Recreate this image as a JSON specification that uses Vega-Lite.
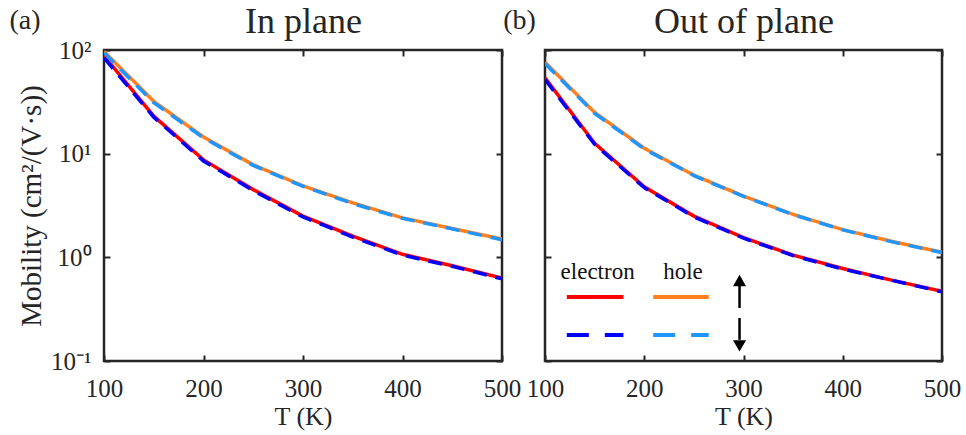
{
  "$schema": "https://vega.github.io/schema/vega-lite/v6.json",
  "background": "white",
  "padding": {"left": 8, "top": 1, "right": 5, "bottom": 5},
  "config": {
    "font": "Liberation Serif",
    "view": {"stroke": "#262626", "strokeWidth": 2.5},
    "axis": {"domain": false, "grid": false, "tickColor": "#262626", "tickWidth": 2, "tickSize": -6, "labelFlush": false, "labelFont": "Liberation Serif", "labelFontSize": 25, "labelColor": "#262626", "titleFont": "Liberation Serif", "titleFontSize": 26, "titleFontWeight": "normal", "titleColor": "#262626"},
    "title": {"font": "Liberation Serif", "fontSize": 28, "fontWeight": "normal", "color": "#262626"}
  },
  "datasets": {
    "curves": [
      {"p": "a", "s": "e", "T": 100, "mu": 88}, {"p": "a", "s": "e", "T": 150, "mu": 23}, {"p": "a", "s": "e", "T": 200, "mu": 8.7}, {"p": "a", "s": "e", "T": 250, "mu": 4.5}, {"p": "a", "s": "e", "T": 300, "mu": 2.5}, {"p": "a", "s": "e", "T": 350, "mu": 1.6}, {"p": "a", "s": "e", "T": 400, "mu": 1.07}, {"p": "a", "s": "e", "T": 450, "mu": 0.83}, {"p": "a", "s": "e", "T": 500, "mu": 0.63},
      {"p": "a", "s": "h", "T": 100, "mu": 97}, {"p": "a", "s": "h", "T": 150, "mu": 32}, {"p": "a", "s": "h", "T": 200, "mu": 14.5}, {"p": "a", "s": "h", "T": 250, "mu": 7.8}, {"p": "a", "s": "h", "T": 300, "mu": 4.9}, {"p": "a", "s": "h", "T": 350, "mu": 3.35}, {"p": "a", "s": "h", "T": 400, "mu": 2.4}, {"p": "a", "s": "h", "T": 450, "mu": 1.9}, {"p": "a", "s": "h", "T": 500, "mu": 1.5},
      {"p": "a", "s": "eD", "T": 100, "mu": 84}, {"p": "a", "s": "eD", "T": 150, "mu": 22.5}, {"p": "a", "s": "eD", "T": 200, "mu": 8.5}, {"p": "a", "s": "eD", "T": 250, "mu": 4.4}, {"p": "a", "s": "eD", "T": 300, "mu": 2.45}, {"p": "a", "s": "eD", "T": 350, "mu": 1.57}, {"p": "a", "s": "eD", "T": 400, "mu": 1.05}, {"p": "a", "s": "eD", "T": 450, "mu": 0.82}, {"p": "a", "s": "eD", "T": 500, "mu": 0.62},
      {"p": "a", "s": "hD", "T": 100, "mu": 94}, {"p": "a", "s": "hD", "T": 150, "mu": 31}, {"p": "a", "s": "hD", "T": 200, "mu": 14.2}, {"p": "a", "s": "hD", "T": 250, "mu": 7.7}, {"p": "a", "s": "hD", "T": 300, "mu": 4.85}, {"p": "a", "s": "hD", "T": 350, "mu": 3.3}, {"p": "a", "s": "hD", "T": 400, "mu": 2.38}, {"p": "a", "s": "hD", "T": 450, "mu": 1.88}, {"p": "a", "s": "hD", "T": 500, "mu": 1.48},
      {"p": "b", "s": "e", "T": 100, "mu": 54}, {"p": "b", "s": "e", "T": 150, "mu": 12.6}, {"p": "b", "s": "e", "T": 200, "mu": 4.8}, {"p": "b", "s": "e", "T": 250, "mu": 2.5}, {"p": "b", "s": "e", "T": 300, "mu": 1.55}, {"p": "b", "s": "e", "T": 350, "mu": 1.05}, {"p": "b", "s": "e", "T": 400, "mu": 0.78}, {"p": "b", "s": "e", "T": 450, "mu": 0.6}, {"p": "b", "s": "e", "T": 500, "mu": 0.47},
      {"p": "b", "s": "h", "T": 100, "mu": 76}, {"p": "b", "s": "h", "T": 150, "mu": 25}, {"p": "b", "s": "h", "T": 200, "mu": 11.3}, {"p": "b", "s": "h", "T": 250, "mu": 6.2}, {"p": "b", "s": "h", "T": 300, "mu": 3.9}, {"p": "b", "s": "h", "T": 350, "mu": 2.6}, {"p": "b", "s": "h", "T": 400, "mu": 1.85}, {"p": "b", "s": "h", "T": 450, "mu": 1.42}, {"p": "b", "s": "h", "T": 500, "mu": 1.12},
      {"p": "b", "s": "eD", "T": 100, "mu": 52}, {"p": "b", "s": "eD", "T": 150, "mu": 12.3}, {"p": "b", "s": "eD", "T": 200, "mu": 4.7}, {"p": "b", "s": "eD", "T": 250, "mu": 2.46}, {"p": "b", "s": "eD", "T": 300, "mu": 1.53}, {"p": "b", "s": "eD", "T": 350, "mu": 1.04}, {"p": "b", "s": "eD", "T": 400, "mu": 0.77}, {"p": "b", "s": "eD", "T": 450, "mu": 0.6}, {"p": "b", "s": "eD", "T": 500, "mu": 0.465},
      {"p": "b", "s": "hD", "T": 100, "mu": 74}, {"p": "b", "s": "hD", "T": 150, "mu": 24.5}, {"p": "b", "s": "hD", "T": 200, "mu": 11.1}, {"p": "b", "s": "hD", "T": 250, "mu": 6.15}, {"p": "b", "s": "hD", "T": 300, "mu": 3.87}, {"p": "b", "s": "hD", "T": 350, "mu": 2.58}, {"p": "b", "s": "hD", "T": 400, "mu": 1.84}, {"p": "b", "s": "hD", "T": 450, "mu": 1.41}, {"p": "b", "s": "hD", "T": 500, "mu": 1.11}
    ],
    "legendLines": [
      {"s": "e", "T": 122, "mu": 0.414}, {"s": "e", "T": 179, "mu": 0.414},
      {"s": "h", "T": 209, "mu": 0.414}, {"s": "h", "T": 265, "mu": 0.414},
      {"s": "eD", "T": 122, "mu": 0.178}, {"s": "eD", "T": 179, "mu": 0.178},
      {"s": "hD", "T": 209, "mu": 0.178}, {"s": "hD", "T": 265, "mu": 0.178}
    ],
    "legendText": [
      {"label": "electron", "T": 153, "mu": 0.72},
      {"label": "hole", "T": 239, "mu": 0.72}
    ],
    "arrows": [
      {"T": 296, "lo": 0.325, "hi": 0.59},
      {"T": 296, "lo": 0.16, "hi": 0.26}
    ],
    "heads": [
      {"T": 296, "mu": 0.598, "dir": "up"},
      {"T": 296, "mu": 0.14, "dir": "down"}
    ]
  },
  "hconcat": [
    {
      "width": 398,
      "height": 311,
      "title": {"text": "(a)", "anchor": "start", "frame": "bounds", "dx": -8, "dy": 36},
      "layer": [
        {
          "data": {"name": "curves"},
          "transform": [{"filter": "datum.p == 'a' && (datum.s == 'e' || datum.s == 'h')"}],
          "mark": {"type": "line", "strokeWidth": 3.5, "clip": true},
          "encoding": {
            "x": {"field": "T", "type": "quantitative", "scale": {"domain": [100, 500], "nice": false}, "axis": {"values": [100, 200, 300, 400, 500], "title": "T (K)", "labelPadding": 21, "titlePadding": 2}},
            "y": {"field": "mu", "type": "quantitative", "scale": {"type": "log", "domain": [0.1, 100], "nice": false}, "axis": {"values": [0.1, 1, 10, 100], "labelExpr": "datum.value >= 99 ? '10²' : datum.value >= 9 ? '10¹' : datum.value >= 0.9 ? '10⁰' : '10⁻¹'", "title": "Mobility (cm²/(V·s))", "titleFontSize": 29, "labelPadding": 19, "titlePadding": 4}},
            "color": {"field": "s", "type": "nominal", "scale": {"domain": ["e", "eD", "h", "hD"], "range": ["#FF0000", "#0000FF", "#FF8020", "#1E96FF"]}, "legend": null}
          }
        },
        {
          "data": {"name": "curves"},
          "transform": [{"filter": "datum.p == 'a' && (datum.s == 'eD' || datum.s == 'hD')"}],
          "mark": {"type": "line", "strokeWidth": 3.5, "strokeDash": [14, 9], "clip": true},
          "encoding": {
            "x": {"field": "T", "type": "quantitative", "scale": {"domain": [100, 500], "nice": false}, "axis": null},
            "y": {"field": "mu", "type": "quantitative", "scale": {"type": "log", "domain": [0.1, 100], "nice": false}, "axis": null},
            "color": {"field": "s", "type": "nominal", "legend": null}
          }
        },
        {
          "data": {"name": "curves"},
          "transform": [{"filter": "datum.p == 'a' && datum.s == 'e'"}],
          "mark": {"type": "line", "opacity": 0},
          "encoding": {
            "x": {"field": "T", "type": "quantitative", "scale": {"domain": [100, 500], "nice": false}, "axis": {"orient": "top", "values": [100, 200, 300, 400, 500], "labels": false, "title": "In plane", "titleFontSize": 36, "titlePadding": 9}},
            "y": {"field": "mu", "type": "quantitative", "scale": {"type": "log", "domain": [0.1, 100], "nice": false}, "axis": {"orient": "right", "values": [0.1, 1, 10, 100], "labels": false, "title": null}}
          }
        }
      ],
      "resolve": {"axis": {"x": "independent", "y": "independent"}}
    },
    {
      "width": 397,
      "height": 311,
      "title": {"text": "(b)", "anchor": "start", "frame": "bounds", "dx": -23, "dy": 36},
      "layer": [
        {
          "data": {"name": "curves"},
          "transform": [{"filter": "datum.p == 'b' && (datum.s == 'e' || datum.s == 'h')"}],
          "mark": {"type": "line", "strokeWidth": 3.5, "clip": true},
          "encoding": {
            "x": {"field": "T", "type": "quantitative", "scale": {"domain": [100, 500], "nice": false}, "axis": {"values": [100, 200, 300, 400, 500], "title": "T (K)", "labelPadding": 21, "titlePadding": 2}},
            "y": {"field": "mu", "type": "quantitative", "scale": {"type": "log", "domain": [0.1, 100], "nice": false}, "axis": {"values": [0.1, 1, 10, 100], "labels": false, "title": null}},
            "color": {"field": "s", "type": "nominal", "scale": {"domain": ["e", "eD", "h", "hD"], "range": ["#FF0000", "#0000FF", "#FF8020", "#1E96FF"]}, "legend": null}
          }
        },
        {
          "data": {"name": "curves"},
          "transform": [{"filter": "datum.p == 'b' && (datum.s == 'eD' || datum.s == 'hD')"}],
          "mark": {"type": "line", "strokeWidth": 3.5, "strokeDash": [14, 9], "clip": true},
          "encoding": {
            "x": {"field": "T", "type": "quantitative", "scale": {"domain": [100, 500], "nice": false}, "axis": null},
            "y": {"field": "mu", "type": "quantitative", "scale": {"type": "log", "domain": [0.1, 100], "nice": false}, "axis": null},
            "color": {"field": "s", "type": "nominal", "legend": null}
          }
        },
        {
          "data": {"name": "legendLines"},
          "transform": [{"filter": "datum.s == 'e' || datum.s == 'h'"}],
          "mark": {"type": "line", "strokeWidth": 4},
          "encoding": {
            "x": {"field": "T", "type": "quantitative", "scale": {"domain": [100, 500], "nice": false}, "axis": null},
            "y": {"field": "mu", "type": "quantitative", "scale": {"type": "log", "domain": [0.1, 100], "nice": false}, "axis": null},
            "color": {"field": "s", "type": "nominal", "legend": null}
          }
        },
        {
          "data": {"name": "legendLines"},
          "transform": [{"filter": "datum.s == 'eD' || datum.s == 'hD'"}],
          "mark": {"type": "line", "strokeWidth": 4, "strokeDash": [22, 16]},
          "encoding": {
            "x": {"field": "T", "type": "quantitative", "scale": {"domain": [100, 500], "nice": false}, "axis": null},
            "y": {"field": "mu", "type": "quantitative", "scale": {"type": "log", "domain": [0.1, 100], "nice": false}, "axis": null},
            "color": {"field": "s", "type": "nominal", "legend": null}
          }
        },
        {
          "data": {"name": "legendText"},
          "mark": {"type": "text", "fontSize": 23, "font": "Liberation Serif", "color": "#111111", "baseline": "middle"},
          "encoding": {
            "x": {"field": "T", "type": "quantitative", "scale": {"domain": [100, 500], "nice": false}, "axis": null},
            "y": {"field": "mu", "type": "quantitative", "scale": {"type": "log", "domain": [0.1, 100], "nice": false}, "axis": null},
            "text": {"field": "label"}
          }
        },
        {
          "data": {"name": "arrows"},
          "mark": {"type": "rule", "strokeWidth": 2.5, "color": "#000000"},
          "encoding": {
            "x": {"field": "T", "type": "quantitative", "scale": {"domain": [100, 500], "nice": false}, "axis": null},
            "y": {"field": "lo", "type": "quantitative", "scale": {"type": "log", "domain": [0.1, 100], "nice": false}, "axis": null},
            "y2": {"field": "hi"}
          }
        },
        {
          "data": {"name": "heads"},
          "mark": {"type": "point", "filled": true, "opacity": 1, "color": "#000000", "size": 170},
          "encoding": {
            "x": {"field": "T", "type": "quantitative", "scale": {"domain": [100, 500], "nice": false}, "axis": null},
            "y": {"field": "mu", "type": "quantitative", "scale": {"type": "log", "domain": [0.1, 100], "nice": false}, "axis": null},
            "shape": {"field": "dir", "type": "nominal", "scale": {"domain": ["up", "down"], "range": ["triangle-up", "triangle-down"]}, "legend": null}
          }
        },
        {
          "data": {"name": "curves"},
          "transform": [{"filter": "datum.p == 'b' && datum.s == 'e'"}],
          "mark": {"type": "line", "opacity": 0},
          "encoding": {
            "x": {"field": "T", "type": "quantitative", "scale": {"domain": [100, 500], "nice": false}, "axis": {"orient": "top", "values": [100, 200, 300, 400, 500], "labels": false, "title": "Out of plane", "titleFontSize": 36, "titlePadding": 9}},
            "y": {"field": "mu", "type": "quantitative", "scale": {"type": "log", "domain": [0.1, 100], "nice": false}, "axis": {"orient": "right", "values": [0.1, 1, 10, 100], "labels": false, "title": null}}
          }
        }
      ],
      "resolve": {"axis": {"x": "independent", "y": "independent"}}
    }
  ],
  "spacing": -20
}
